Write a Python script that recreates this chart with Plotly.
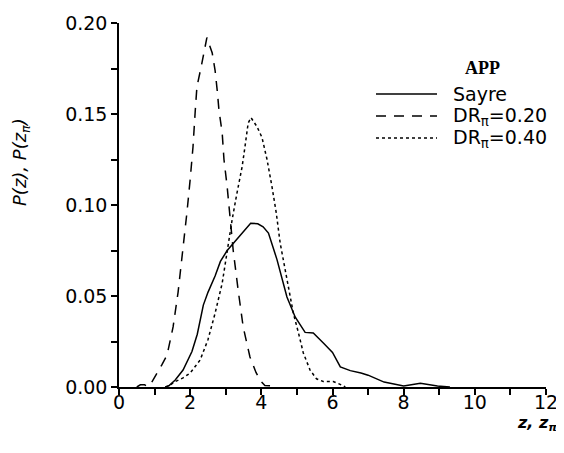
import plotly.graph_objects as go

# ---- data ----
sayre_z = [1.3, 1.4, 1.58, 1.8, 2.05, 2.2, 2.37, 2.5, 2.7, 2.85, 3.04, 3.4, 3.7, 3.9, 4.05, 4.2,
           4.44, 4.72, 4.95, 5.23, 5.46, 5.75, 6.0, 6.22, 6.5, 6.8, 7.0, 7.45, 8.0, 8.47, 8.95, 9.3]
sayre_p = [0.0, 0.0007, 0.0038, 0.0093, 0.0195, 0.029, 0.045, 0.052, 0.061, 0.069, 0.075, 0.0835,
           0.090, 0.0897, 0.088, 0.0846, 0.070, 0.0495, 0.0385, 0.030, 0.0297, 0.024, 0.019, 0.011,
           0.009, 0.0077, 0.0065, 0.0027, 0.0005, 0.002, 0.0005, 0.0]

dr20_z = [0.5, 0.6, 0.72, 0.8, 0.9, 1.01, 1.2, 1.35, 1.52, 1.66, 1.8, 1.91, 2.0, 2.08, 2.14, 2.19,
          2.31, 2.39, 2.47, 2.62, 2.7, 2.76, 2.81, 2.9, 2.95, 3.04, 3.09, 3.21, 3.35, 3.49, 3.68,
          3.85, 3.97, 4.1, 4.4]
dr20_p = [0.0, 0.0012, 0.0012, 0.0003, 0.002, 0.0055, 0.012, 0.0175, 0.033, 0.052, 0.075, 0.096,
          0.114, 0.132, 0.151, 0.165, 0.176, 0.184, 0.192, 0.1835, 0.174, 0.163, 0.152, 0.1396,
          0.125, 0.110, 0.099, 0.075, 0.053, 0.033, 0.0165, 0.008, 0.0035, 0.0008, 0.0005]

dr40_z = [1.3, 1.4, 1.58, 1.8, 2.0, 2.28, 2.5, 2.7, 2.9, 3.04, 3.18, 3.3, 3.46, 3.54, 3.63, 3.71,
          3.88, 4.02, 4.16, 4.3, 4.42, 4.53, 4.73, 4.9, 5.04, 5.18, 5.37, 5.55, 5.74, 6.02, 6.2, 6.36]
dr40_p = [0.0, 0.0005, 0.003, 0.005, 0.0077, 0.0148, 0.026, 0.0405, 0.057, 0.075, 0.092, 0.105,
          0.121, 0.132, 0.145, 0.148, 0.143, 0.137, 0.125, 0.110, 0.0956, 0.079, 0.059, 0.0405,
          0.030, 0.0187, 0.0093, 0.0045, 0.003, 0.003, 0.0016, 0.0]

series_names = ["Sayre", "DR<sub>π</sub>=0.20", "DR<sub>π</sub>=0.40"]
legend_title = "APP"
x_ticks = [0, 2, 4, 6, 8, 10, 12]
y_ticks = [0.00, 0.05, 0.10, 0.15, 0.20]
y_tick_text = ["0.00", "0.05", "0.10", "0.15", "0.20"]

# ---- styling ----
dashes = ["solid", "10px,8px", "3px,3px"]
FONT = "DejaVu Sans"

fig = go.Figure()
for zs, ps, name, dash in zip([sayre_z, dr20_z, dr40_z], [sayre_p, dr20_p, dr40_p], series_names, dashes):
    fig.add_trace(go.Scatter(x=zs, y=ps, mode="lines", name=name, showlegend=False,
                             line=dict(color="black", width=1.5, dash=dash)))

# page body has an 8px margin; figure is sized to fit the 564x453 window
OFF = 8
W, H = 556, 445
L, R, T, B = 111, 18, 15, 66
pw, ph = W - L - R, H - T - B

def px(x):  # x in window pixels -> paper
    return (x - OFF - L) / pw

def py(y):  # y in window pixels -> paper
    return (H - B - (y - OFF)) / ph

# manual legend
leg_rows = [94, 116, 138]
for name, dash, yy in zip(series_names, dashes, leg_rows):
    fig.add_shape(type="line", xref="paper", yref="paper", x0=px(376), x1=px(437),
                  y0=py(yy), y1=py(yy), line=dict(color="black", width=1.5, dash=dash))
    fig.add_annotation(xref="paper", yref="paper", x=px(451), y=py(yy), text=name,
                       showarrow=False, xanchor="left", yanchor="middle",
                       font=dict(family=FONT, size=19, color="black"))
fig.add_annotation(xref="paper", yref="paper", x=px(463), y=py(68), text="<b>" + legend_title + "</b>",
                   showarrow=False, xanchor="left", yanchor="middle",
                   font=dict(family="Liberation Serif", size=18, color="black"))

# axis titles
fig.add_annotation(xref="paper", yref="paper", x=px(21), y=py(162),
                   text="P(z), P(z<sub>π</sub>)", textangle=-90, showarrow=False,
                   xanchor="center", yanchor="middle",
                   font=dict(family=FONT, size=18, color="black", style="italic"))
fig.add_annotation(xref="paper", yref="paper", x=px(559), y=py(423),
                   text="<b>z, z<sub>π</sub></b>", showarrow=False,
                   xanchor="right", yanchor="middle",
                   font=dict(family=FONT, size=16, color="black", style="italic"))

fig.update_xaxes(range=[0, 12], tickvals=x_ticks, ticktext=[str(v) for v in x_ticks],
                 automargin=False,
                 showline=True, linecolor="black", linewidth=1.5, showgrid=False, zeroline=False,
                 ticks="outside", ticklen=6, tickwidth=1.5, tickcolor="black",
                 ticklabelstandoff=-9,
                 minor=dict(dtick=1, tick0=0, ticks="outside", ticklen=6, tickwidth=1.5,
                            tickcolor="black", showgrid=False),
                 tickfont=dict(family=FONT, size=19, color="black"))
fig.update_yaxes(range=[0, 0.2], tickvals=y_ticks, ticktext=y_tick_text,
                 automargin=False,
                 showline=True, linecolor="black", linewidth=1.5, showgrid=False, zeroline=False,
                 ticks="outside", ticklen=6, tickwidth=1.5, tickcolor="black",
                 ticklabelstandoff=0,
                 minor=dict(dtick=0.025, tick0=0, ticks="outside", ticklen=6, tickwidth=1.5,
                            tickcolor="black", showgrid=False),
                 tickfont=dict(family=FONT, size=19, color="black"))

fig.update_layout(width=W, height=H, margin=dict(l=L, r=R, t=T, b=B, autoexpand=False),
                  paper_bgcolor="white", plot_bgcolor="white", showlegend=False)

fig.write_html("out.html")
